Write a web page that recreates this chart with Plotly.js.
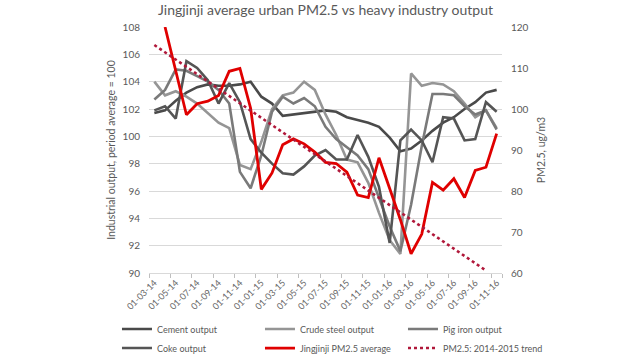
<!DOCTYPE html>
<html>
<head>
<meta charset="utf-8">
<script src="https://cdn.plot.ly/plotly-3.0.1.min.js"></script>
<style>
  html, body { margin: 0; padding: 0; background: #ffffff; }
  #chart { width: 640px; height: 360px; }
</style>
</head>
<body>
<div id="chart"></div>
<script>
// Categories (monthly, Mar 2014 - Nov 2016)
const months = ["01-03-14","01-04-14","01-05-14","01-06-14","01-07-14","01-08-14","01-09-14","01-10-14","01-11-14","01-12-14",
                "01-01-15","01-02-15","01-03-15","01-04-15","01-05-15","01-06-15","01-07-15","01-08-15","01-09-15","01-10-15","01-11-15","01-12-15",
                "01-01-16","01-02-16","01-03-16","01-04-16","01-05-16","01-06-16","01-07-16","01-08-16","01-09-16","01-10-16","01-11-16"];

// Tick labels shown on the x axis (every second month)
const tickLabels = ["01-03-14","01-05-14","01-07-14","01-09-14","01-11-14","01-01-15","01-03-15","01-05-15","01-07-15",
                    "01-09-15","01-11-15","01-01-16","01-03-16","01-05-16","01-07-16","01-09-16","01-11-16"];

// Industrial output, period average = 100 (left axis)
const cement = [101.7, 101.9, 102.6, 103.2, 103.6, 103.8, 103.7, 103.7, 103.8, 104.0, 102.9, 102.4, 101.5, 101.6, 101.7, 101.8, 101.9,
                101.8, 101.4, 101.2, 101.0, 100.7, 99.9, 98.9, 99.1, 99.7, 100.4, 101.0, 101.4, 102.0, 102.5, 103.2, 103.4];
const crudeSteel = [104.0, 103.0, 103.3, 102.9, 102.4, 101.7, 101.0, 100.6, 97.9, 97.6, 99.6, 102.0, 103.0, 103.2, 104.0, 103.4, 101.6,
                    100.1, 98.3, 98.1, 96.6, 94.4, 92.4, 91.4, 104.6, 103.7, 103.9, 103.8, 103.3, 102.4, 101.4, 101.9, 100.6];
const pigIron = [102.7, 103.4, 104.9, 104.8, 104.4, 104.0, 103.4, 102.4, 97.4, 96.2, 98.6, 101.8, 102.9, 102.4, 102.8, 102.2, 100.7,
                 99.8, 99.2, 98.6, 97.6, 95.5, 93.4, 91.6, 95.0, 99.3, 103.1, 103.1, 103.0, 102.2, 101.6, 101.9, 100.5];
const coke = [101.9, 102.2, 101.3, 105.5, 105.0, 104.1, 102.4, 103.9, 102.5, 99.8, 98.8, 98.0, 97.3, 97.2, 97.8, 98.6, 99.0,
              98.3, 98.3, 100.1, 98.5, 96.3, 92.2, 99.7, 100.5, 99.7, 98.1, 101.4, 101.3, 99.7, 99.8, 102.5, 101.8];

// Jingjinji PM2.5 average, ug/m3 (right axis)
const pm25 = [null, 120.0, 109.3, 98.6, 101.3, 101.9, 103.3, 109.2, 109.9, 100.2, 80.4, 84.4, 91.3, 92.7, 91.5, 89.5, 87.0,
              86.7, 84.6, 79.0, 78.4, 88.1, 80.6, 73.0, 64.7, 69.5, 82.1, 80.2, 83.0, 78.4, 85.0, 85.8, 94.0];

// PM2.5: 2014-2015 linear trend (end points)
const trendMonths = ["01-03-14", "01-10-16"];
const trendValues = [115.6, 60.6];

const axisGray = "#595959";
const fontFam = "Lato, 'Open Sans', sans-serif";

function grayLine(name, y, color) {
  return { type: "scatter", mode: "lines", name: name, x: months, y: y,
           line: { color: color, width: 2.6 }, yaxis: "y" };
}

const traces = [
  grayLine("Cement output", cement, "#4a4a4a"),
  grayLine("Crude steel output", crudeSteel, "#959595"),
  grayLine("Pig iron output", pigIron, "#7a7a7a"),
  grayLine("Coke output", coke, "#555555"),
  { type: "scatter", mode: "lines", name: "Jingjinji PM2.5 average", x: months, y: pm25,
    line: { color: "#e00000", width: 2.8 }, yaxis: "y2", connectgaps: false },
  { type: "scatter", mode: "lines", name: "PM2.5: 2014-2015 trend", x: trendMonths, y: trendValues,
    line: { color: "#b0183a", width: 2.6, dash: "dot" }, yaxis: "y2" }
];

const layout = {
  width: 640, height: 360,
  paper_bgcolor: "#ffffff", plot_bgcolor: "#ffffff",
  margin: { l: 149, r: 138, t: 27, b: 87, autoexpand: false },
  font: { family: fontFam, color: axisGray, size: 10 },
  title: { text: "Jingjinji average urban PM2.5 vs heavy industry output",
           font: { family: fontFam, size: 14, color: "#595959" },
           x: 0.5, xref: "paper", y: 0.972, yref: "container", yanchor: "middle" },
  showlegend: true,
  legend: { orientation: "h", xref: "paper", yref: "paper", x: -0.0907, y: -0.169, xanchor: "left", yanchor: "top",
            bgcolor: "rgba(255,255,255,0)", borderwidth: 0,
            entrywidth: 98, entrywidthmode: "pixels", font: { family: fontFam, size: 9, color: axisGray },
            tracegroupgap: 0, itemwidth: 30, traceorder: "normal" },
  xaxis: {
    type: "category", categoryorder: "array", categoryarray: months, range: [-0.5, 32.5],
    tickmode: "array", tickvals: tickLabels, ticktext: tickLabels, tickson: "boundaries",
    ticks: "outside", ticklen: 4, tickcolor: "#bfbfbf", tickangle: -45,
    tickfont: { family: fontFam, size: 9, color: "#666666" },
    showgrid: false, showline: true, linecolor: "#d9d9d9", linewidth: 1, zeroline: false
  },
  yaxis: {
    range: [90, 108], dtick: 2, tick0: 90, showgrid: true, gridcolor: "#d9d9d9", gridwidth: 1,
    zeroline: false, showline: false, ticks: "", ticklabelstandoff: 8,
    tickfont: { family: fontFam, size: 10, color: axisGray },
    title: { text: "Industrial output, period average = 100", font: { family: fontFam, size: 10.5, color: axisGray }, standoff: 4 }
  },
  yaxis2: {
    overlaying: "y", side: "right", range: [60, 120], dtick: 10, tick0: 60, showgrid: false, zeroline: false,
    showline: false, ticks: "", ticklabelstandoff: 8,
    tickfont: { family: fontFam, size: 10, color: axisGray },
    title: { text: "PM2.5, ug/m3", font: { family: fontFam, size: 10.5, color: axisGray }, standoff: 10 }
  }
};

Plotly.newPlot("chart", traces, layout, { displayModeBar: false, staticPlot: true });
</script>
</body>
</html>
